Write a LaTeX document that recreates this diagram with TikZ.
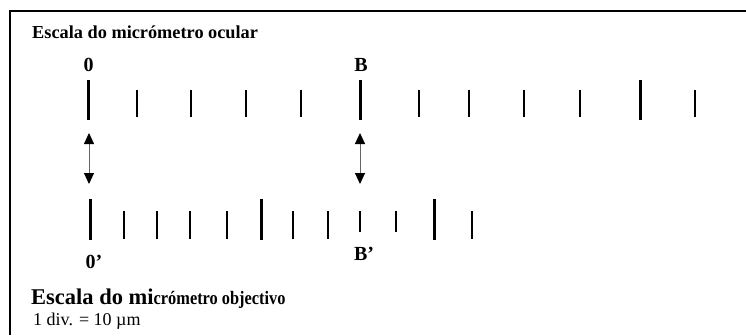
\documentclass[tikz,border=0pt]{standalone}
\usepackage{fontspec}
\setmainfont{Liberation Serif}
\usetikzlibrary{arrows.meta}
\begin{document}
\begin{tikzpicture}[x=1pt,y=-1pt,
  majortick/.style={line width=3pt},
  minortick/.style={line width=1.4pt},
  lbl/.style={inner sep=0pt, anchor=base, font=\fontsize{20}{20}\selectfont\bfseries},
  txt/.style={inner sep=0pt, anchor=base west},
  dblarrow/.style={{Triangle[length=11pt,width=10pt,color=black]}-{Triangle[length=11pt,width=10pt,color=black]}, line width=1pt, draw=black!60}]
\useasboundingbox (0,0) rectangle (746,335);
% frame
\draw[line width=2pt] (746,10.5) -- (10,10.5) -- (10,335);
% titles
\node[txt, font=\fontsize{18.3}{18}\selectfont\bfseries] (title1) at (32,38.5) {Escala do micrómetro ocular};
\node[txt, font=\bfseries] (title2) at (31,304) {\fontsize{22.5}{22}\selectfont Escala do mi\fontsize{19}{19}\selectfont\addfontfeature{FakeStretch=0.86}crómetro objectivo};
\node[txt, font=\fontsize{18}{18}\selectfont] (div) at (33,325) {1 div. = 10 µm};
% labels
\node[lbl] (zero) at (88.5,71) {0};
\node[lbl] (B) at (361,71) {B};
\node[lbl] (zerop) at (94,268) {0’};
\node[lbl] (Bp) at (364,260) {B’};
% top scale
\foreach \x in {88,360,640} \draw[majortick] (\x,80) -- (\x,120);
\foreach \x in {137,191,246,301,419,469,524,580,695} \draw[minortick] (\x,90) -- (\x,117);
% bottom scale
\foreach \x in {90,261,434} \draw[majortick] (\x,199) -- (\x,240);
\foreach \x in {124,157,190,227,293,328,472} \draw[minortick] (\x,211) -- (\x,239);
\foreach \x in {360,396} \draw[minortick] (\x,211) -- (\x,232);
% arrows
\coordinate (a1t) at (89,133);
\coordinate (a1b) at (89,184);
\coordinate (a2t) at (360,133);
\coordinate (a2b) at (360,184);
\draw[dblarrow] (a1t) -- (a1b);
\draw[dblarrow] (a2t) -- (a2b);
\end{tikzpicture}
\end{document}
